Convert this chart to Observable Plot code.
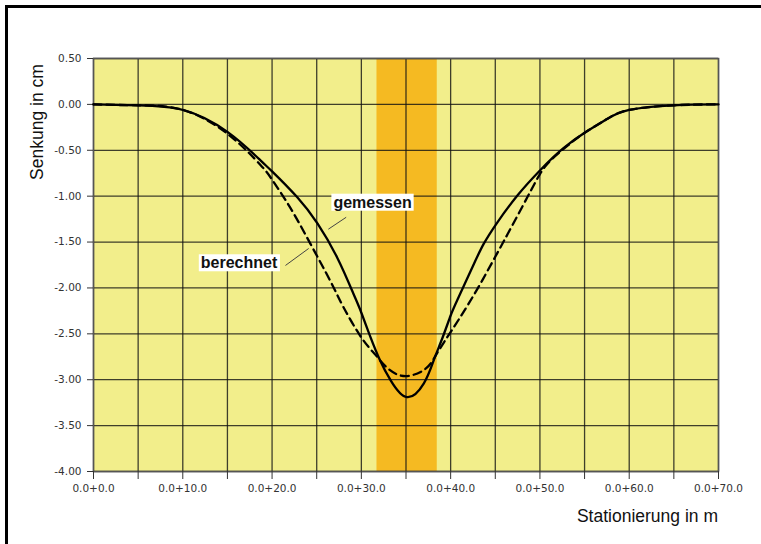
<!DOCTYPE html>
<html>
<head>
<meta charset="utf-8">
<script src="https://cdn.jsdelivr.net/npm/d3@7"></script>
<script src="https://cdn.jsdelivr.net/npm/@observablehq/plot@0.6"></script>
<style>
  html, body { margin: 0; padding: 0; background: #fff; }
  #wrap { position: relative; width: 761px; height: 544px; overflow: hidden; font-family: "Liberation Sans", Arial, sans-serif; }
  #frame { position: absolute; left: 5px; top: 5px; width: 800px; height: 600px; border-left: 3px solid #000; border-top: 3px solid #000; box-sizing: border-box; pointer-events: none; }
  #ytitle { position: absolute; left: 37px; top: 122px; transform: translate(-50%, -50%) rotate(-90deg); font-size: 17.5px; color: #111; white-space: nowrap; }
  #xtitle { position: absolute; right: 43px; top: 506px; font-size: 17.5px; color: #111; white-space: nowrap; }
  #chart { position: absolute; left: 0; top: 0; }
</style>
</head>
<body>
<div id="wrap">
  <div id="chart"></div>
  <div id="frame"></div>
  <div id="ytitle">Senkung in cm</div>
  <div id="xtitle">Stationierung in m</div>
</div>
<script>
// Station (m) and settlement (cm)
const gemessenX = [0, 5, 10, 15, 18.7, 20, 22.8, 25.1, 27.3, 29.1, 30, 31, 32.1, 33.3, 35.1, 37, 38.1, 39.1, 40, 40.8, 42.5, 43.7, 45.2, 47.5, 50, 52.6, 55.3, 57.5, 60, 65, 70];
const gemessenY = [0, -0.01, -0.06, -0.30, -0.61, -0.73, -1.01, -1.30, -1.67, -2.06, -2.27, -2.53, -2.79, -3.01, -3.19, -3.04, -2.79, -2.54, -2.30, -2.12, -1.76, -1.52, -1.29, -0.99, -0.72, -0.48, -0.29, -0.16, -0.06, -0.01, 0];

const berechnetX = [0, 5, 10, 15, 18.7, 20, 22, 24.3, 26.5, 28, 30, 31.5, 33, 35, 37.2, 38.3, 39.4, 41, 43, 45, 46.4, 48.6, 50, 51.2, 53.1, 55, 57.5, 60, 65, 70];
const berechnetY = [0, -0.01, -0.06, -0.32, -0.66, -0.82, -1.12, -1.52, -1.92, -2.21, -2.54, -2.72, -2.88, -2.96, -2.88, -2.74, -2.57, -2.33, -2.01, -1.66, -1.41, -1.01, -0.76, -0.61, -0.45, -0.31, -0.16, -0.06, -0.01, 0];

const bandStart = [31.75];
const bandEnd = [38.5];

const xTicks = d3.range(0, 71, 5);
const yTicks = d3.range(-4, 0.51, 0.5);

const labelNames = ["gemessen", "berechnet"];
const labelX = [31.25, 16.3];
const labelY = [-1.07, -1.73];
const leaderX1 = [28.3, 21.5];
const leaderY1 = [-1.23, -1.755];
const leaderX2 = [26.3, 24.1];
const leaderY2 = [-1.36, -1.57];

const gem = gemessenX.map((x, i) => ({x, y: gemessenY[i]}));
const ber = berechnetX.map((x, i) => ({x, y: berechnetY[i]}));
const band = bandStart.map((s, i) => ({x1: s, x2: bandEnd[i]}));
const labels = labelNames.map((t, i) => ({t, x: labelX[i], y: labelY[i]}));
const leaders = labelNames.map((t, i) => ({x1: leaderX1[i], y1: leaderY1[i], x2: leaderX2[i], y2: leaderY2[i]}));

const chart = Plot.plot({
  width: 761,
  height: 544,
  marginLeft: 93,
  marginRight: 43,
  marginTop: 58,
  marginBottom: 73,
  style: { background: "transparent", fontFamily: "'DejaVu Sans', Tahoma, sans-serif", fontSize: "10.5px", color: "#333" },
  x: { domain: [0, 70] },
  y: { domain: [-4, 0.5] },
  marks: [
    Plot.rect([0], { x1: 0, x2: 70, y1: -4, y2: 0.5, fill: "#F2EE8B" }),
    Plot.rect(band, { x1: "x1", x2: "x2", y1: -4, y2: 0.5, fill: "#F5BA22" }),
    Plot.ruleX(xTicks, { stroke: "#111", strokeOpacity: 0.8, strokeWidth: 1.3 }),
    Plot.ruleY(yTicks, { stroke: "#111", strokeOpacity: 0.8, strokeWidth: 1.3 }),
    Plot.frame({ stroke: "#555", strokeWidth: 1.5 }),
    Plot.axisX({ ticks: xTicks, tickSize: 8, tickPadding: 5, tickFormat: d => d % 10 === 0 ? "0.0+" + d.toFixed(1) : "", label: null, stroke: "#333" }),
    Plot.axisY({ ticks: yTicks, tickSize: 6, tickPadding: 6, tickFormat: d => d.toFixed(2), label: null, stroke: "#333" }),
    Plot.line(ber, { x: "x", y: "y", stroke: "#000", strokeWidth: 2.3, strokeDasharray: "8,5", curve: "natural" }),
    Plot.line(gem, { x: "x", y: "y", stroke: "#000", strokeWidth: 2.3, curve: "natural" }),
    Plot.link(leaders, { x1: "x1", y1: "y1", x2: "x2", y2: "y2", stroke: "#444", strokeWidth: 1 }),
    Plot.text(labels, { x: "x", y: "y", text: "t", fontSize: 16, fontWeight: "bold", fontFamily: "'Liberation Sans', Arial, sans-serif", fill: "#111", className: "lbl" })
  ]
});
document.getElementById("chart").appendChild(chart);

// white boxes behind the labels
chart.querySelectorAll(".lbl text").forEach(t => {
  const b = t.getBBox();
  const r = document.createElementNS("http://www.w3.org/2000/svg", "rect");
  r.setAttribute("x", b.x - 2);
  r.setAttribute("y", b.y);
  r.setAttribute("width", b.width + 4);
  r.setAttribute("height", b.height);
  r.setAttribute("fill", "#fff");
  const tr = t.getAttribute("transform");
  if (tr) r.setAttribute("transform", tr);
  t.parentNode.insertBefore(r, t);
});
</script>
</body>
</html>
